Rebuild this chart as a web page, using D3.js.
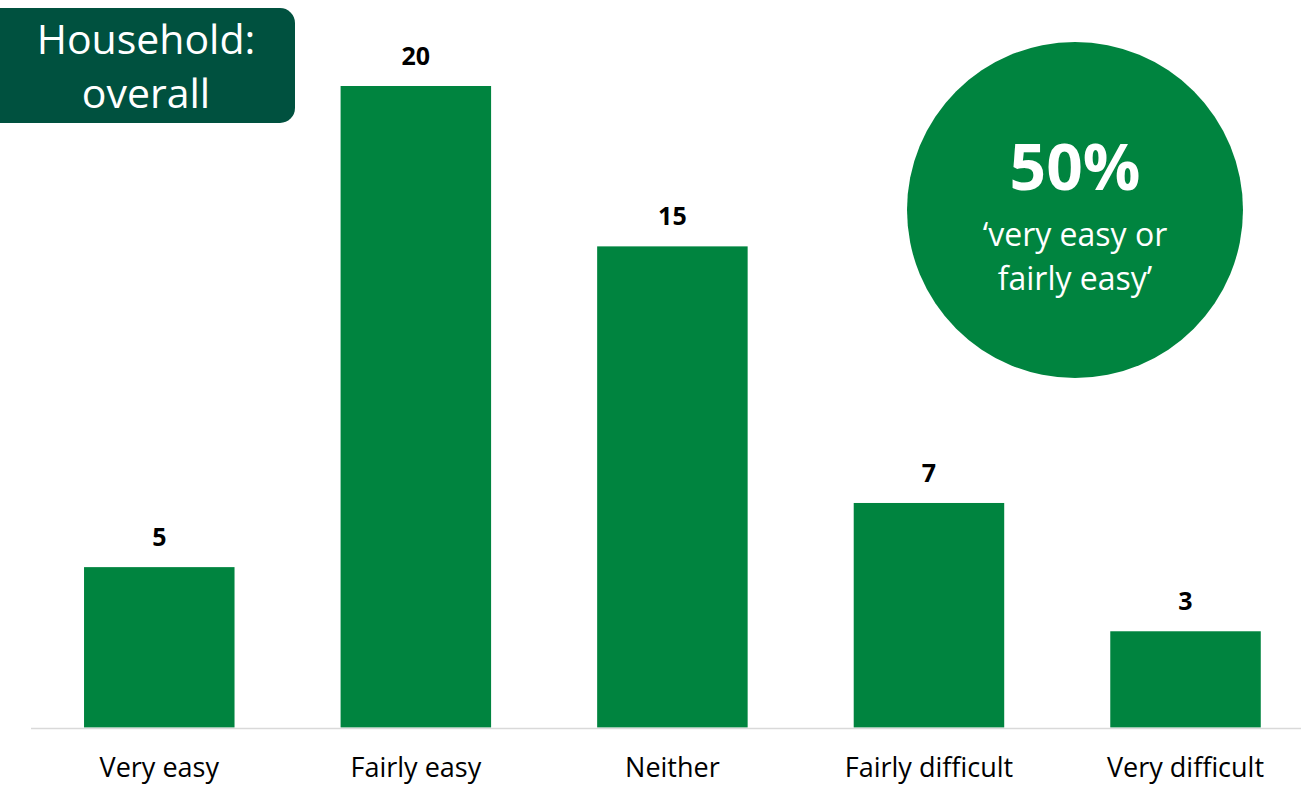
<!DOCTYPE html>
<html>
<head>
<meta charset="utf-8">
<script src="https://cdn.jsdelivr.net/npm/d3@7"></script>
<style>
  html, body { margin: 0; padding: 0; background: #fff; }
  svg { display: block; }
</style>
</head>
<body>
<svg id="chart" width="1301" height="786"></svg>
<script>
// Survey responses: how easy households found it overall
const categories = ["Very easy", "Fairly easy", "Neither", "Fairly difficult", "Very difficult"];
const values = [5, 20, 15, 7, 3];
const titleLines = ["Household:", "overall"];
const headline = "50%";
const headlineNote = ["\u2018very easy or", "fairly easy\u2019"];

const W = 1301, H = 786;
const barColor = "#00843f";
const boxColor = "#00513f";
const font = "'Open Sans', 'Noto Sans', sans-serif";

const svg = d3.select("#chart");

const x = d3.scaleBand()
  .domain(categories)
  .range([31, 31 + 5 * 256.56])
  .paddingInner(0.4134)
  .paddingOuter(0.2067);

const y = d3.scaleLinear()
  .domain([0, 20])
  .range([727.5, 86]);

// bars
svg.append("g").selectAll("rect")
  .data(values)
  .join("rect")
  .attr("x", (d, i) => x(categories[i]))
  .attr("y", d => y(d))
  .attr("width", x.bandwidth())
  .attr("height", d => y(0) - y(d))
  .attr("fill", barColor);

// baseline
svg.append("line")
  .attr("x1", 31).attr("x2", W)
  .attr("y1", 728.5).attr("y2", 728.5)
  .attr("stroke", "#d9d9d9")
  .attr("stroke-width", 1.5);

// value labels
svg.append("g").selectAll("text")
  .data(values)
  .join("text")
  .attr("x", (d, i) => x(categories[i]) + x.bandwidth() / 2)
  .attr("y", d => y(d) - 21)
  .attr("text-anchor", "middle")
  .attr("font-family", font)
  .attr("font-weight", 700)
  .attr("font-size", 25)
  .attr("fill", "#000")
  .text(d => d);

// category labels
svg.append("g").selectAll("text")
  .data(categories)
  .join("text")
  .attr("x", d => x(d) + x.bandwidth() / 2)
  .attr("y", 777)
  .attr("text-anchor", "middle")
  .attr("font-family", font)
  .attr("font-size", 27)
  .attr("fill", "#000")
  .text(d => d);

// title box
const tb = svg.append("g");
tb.append("rect")
  .attr("x", -20).attr("y", 8)
  .attr("width", 315).attr("height", 115)
  .attr("rx", 15)
  .attr("fill", boxColor);
tb.selectAll("text")
  .data(titleLines)
  .join("text")
  .attr("x", 146)
  .attr("y", (d, i) => 54 + i * 54)
  .attr("text-anchor", "middle")
  .attr("font-family", font)
  .attr("font-size", 41)
  .attr("fill", "#fff")
  .text(d => d);

// headline circle
const hc = svg.append("g");
hc.append("circle")
  .attr("cx", 1075).attr("cy", 210)
  .attr("r", 168)
  .attr("fill", barColor);
hc.append("text")
  .attr("x", 1075).attr("y", 190)
  .attr("text-anchor", "middle")
  .attr("font-family", font)
  .attr("font-weight", 700)
  .attr("font-size", 64)
  .attr("fill", "#fff")
  .text(headline);
hc.selectAll("text.note")
  .data(headlineNote)
  .join("text")
  .attr("class", "note")
  .attr("x", 1075)
  .attr("y", (d, i) => 246 + i * 44)
  .attr("text-anchor", "middle")
  .attr("font-family", font)
  .attr("font-size", 32)
  .attr("fill", "#fff")
  .text(d => d);
</script>
</body>
</html>
